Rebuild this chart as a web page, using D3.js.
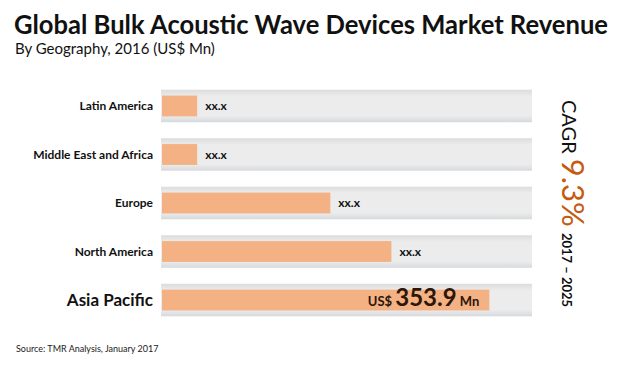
<!DOCTYPE html>
<html>
<head>
<meta charset="utf-8">
<script src="https://cdn.jsdelivr.net/npm/d3@7"></script>
<style>
  body { margin: 0; background: #fff; }
  text { font-family: Lato, "Open Sans", sans-serif; }
</style>
</head>
<body>
<div id="chart"></div>
<script>
const width = 620;
const height = 370;

const regions = ['Latin America', 'Middle East and Africa', 'Europe', 'North America', 'Asia Pacific'];
const revenue = [38, 38, 182, 248, 353.9];
const valueLabels = ['xx.x', 'xx.x', 'xx.x', 'xx.x', '353.9'];
const maxRevenue = 400;

const svg = d3.select('#chart').append('svg')
  .attr('width', width)
  .attr('height', height);

const defs = svg.append('defs');
const bgGrad = defs.append('linearGradient')
  .attr('id', 'bg-grad')
  .attr('x1', 0).attr('y1', 0).attr('x2', 0).attr('y2', 1);
bgGrad.append('stop').attr('offset', '0%').attr('stop-color', '#dcdcdc');
bgGrad.append('stop').attr('offset', '20%').attr('stop-color', '#ececec');
bgGrad.append('stop').attr('offset', '80%').attr('stop-color', '#ececec');
bgGrad.append('stop').attr('offset', '100%').attr('stop-color', '#d6d9dc');

const x = d3.scaleLinear().domain([0, maxRevenue]).range([162, 532]);
const y = d3.scaleBand().domain(regions).range([80, 326]).paddingInner(0.33).paddingOuter(0.2);

// title
svg.append('text')
  .attr('x', 14).attr('y', 34)
  .attr('textLength', 594).attr('lengthAdjust', 'spacingAndGlyphs')
  .style('font-size', '26px').style('font-weight', 'bold').style('fill', '#111')
  .text('Global Bulk Acoustic Wave Devices Market Revenue');

svg.append('text')
  .attr('x', 15).attr('y', 54)
  .style('font-size', '15px').style('fill', '#111')
  .text('By Geography, 2016 (US$ Mn)');

const rows = svg.append('g').selectAll('g')
  .data(regions)
  .enter().append('g');

rows.append('rect')
  .attr('x', x(0) - 1)
  .attr('y', (d) => y(d))
  .attr('width', x(maxRevenue) - x(0) + 1)
  .attr('height', y.bandwidth())
  .style('fill', 'url(#bg-grad)');

rows.append('rect')
  .attr('x', x(0))
  .attr('y', (d) => y(d) + y.bandwidth() * 0.18)
  .attr('width', (d, i) => x(revenue[i]) - x(0))
  .attr('height', y.bandwidth() * 0.64)
  .style('fill', '#f4b183');

rows.append('text')
  .attr('x', 153)
  .attr('y', (d) => y(d) + y.bandwidth() / 2)
  .attr('dy', '0.35em')
  .attr('text-anchor', 'end')
  .style('font-size', (d, i) => i === regions.length - 1 ? '17px' : '12px')
  .style('font-weight', 'bold')
  .style('fill', '#111')
  .text((d) => d);

// xx.x labels for the first four rows
rows.filter((d, i) => i < regions.length - 1)
  .append('text')
  .attr('x', (d) => x(revenue[regions.indexOf(d)]) + 8)
  .attr('y', (d) => y(d) + y.bandwidth() / 2)
  .attr('dy', '0.35em')
  .style('font-size', '12px')
  .style('font-weight', 'bold')
  .style('fill', '#111')
  .text((d) => valueLabels[regions.indexOf(d)]);

// highlighted value inside the Asia Pacific bar
const last = regions[regions.length - 1];
const valText = svg.append('text')
  .attr('x', x(revenue[regions.length - 1]) - 10)
  .attr('y', y(last) + y.bandwidth() / 2)
  .attr('dy', '0.38em')
  .attr('text-anchor', 'end')
  .style('fill', '#2b1608')
  .style('font-weight', 'bold');
valText.append('tspan').style('font-size', '13px').text('US$ ');
valText.append('tspan').style('font-size', '24px').text(valueLabels[regions.length - 1]);
valText.append('tspan').style('font-size', '13px').text(' Mn');

// CAGR, rotated
const cagr = svg.append('text')
  .attr('transform', 'translate(562,100) rotate(90)')
  .style('font-weight', 'bold')
  .style('fill', '#111');
cagr.append('tspan').style('font-size', '20px').style('font-weight', 'normal').text('CAGR ');
cagr.append('tspan').style('font-size', '31px').style('font-weight', 'normal').style('fill', '#c55a11').text('9.3%');
cagr.append('tspan').attr('dx', 6).style('font-size', '13px').text('2017 – 2025');

svg.append('text')
  .attr('x', 16).attr('y', 352)
  .style('font-size', '9px').style('fill', '#222')
  .text('Source: TMR Analysis, January 2017');
</script>
</body>
</html>
